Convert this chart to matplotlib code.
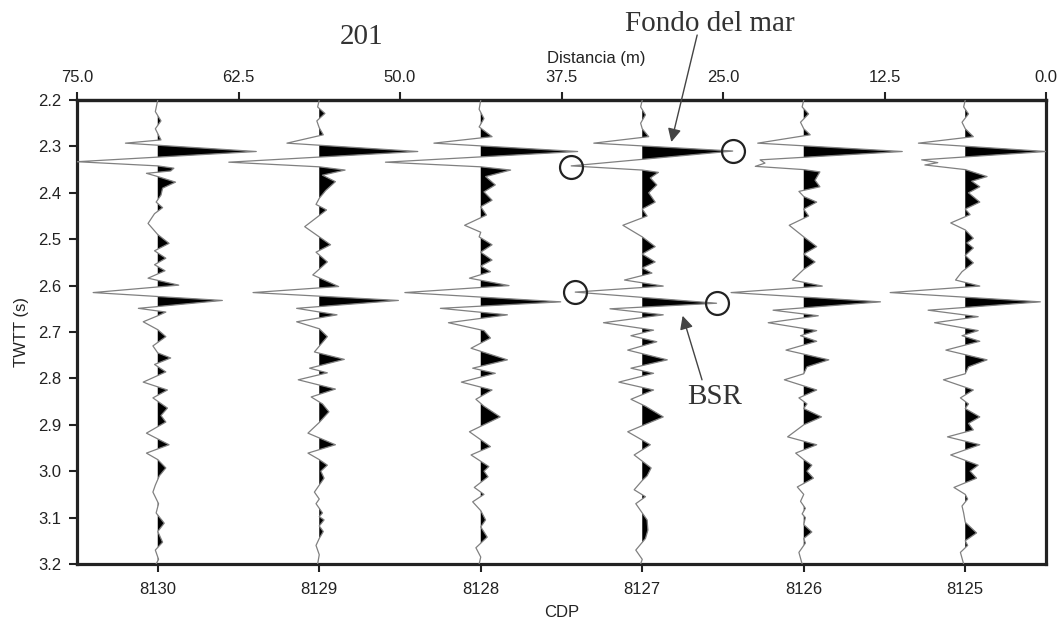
import numpy as np
import matplotlib
matplotlib.use("Agg")
import matplotlib.pyplot as plt
from matplotlib.ticker import FormatStrFormatter

plt.rcParams["font.family"] = ["Liberation Sans", "DejaVu Sans"]

# CDP gathers, left to right
cdps = [8130, 8129, 8128, 8127, 8126, 8125]
cdp_spacing_m = 12.5

# two-way time (s) and normalised amplitude (fraction of trace spacing)
twtt_8130 = [2.200, 2.225, 2.245, 2.262, 2.286, 2.293, 2.311, 2.333, 2.342, 2.347, 2.353, 2.358,
             2.365, 2.377, 2.390, 2.405, 2.420, 2.432, 2.445, 2.466, 2.490, 2.509, 2.525, 2.541,
             2.555, 2.568, 2.584, 2.599, 2.615, 2.632, 2.649, 2.657, 2.665, 2.678, 2.695, 2.710,
             2.730, 2.745, 2.756, 2.770, 2.786, 2.808, 2.825, 2.842, 2.864, 2.880, 2.894, 2.918,
             2.943, 2.961, 2.975, 2.993, 3.010, 3.030, 3.045, 3.070, 3.090, 3.112, 3.130, 3.153,
             3.170, 3.190, 3.200]
amp_8130 = [0.0, -0.015, 0.02, -0.015, 0.02, -0.20, 0.61, -0.50, 0.0, 0.10, 0.08, -0.07,
            0.0, 0.11, 0.03, 0.02, -0.01, 0.03, -0.02, -0.06, 0.0, 0.07, -0.02, 0.05,
            -0.02, 0.045, -0.06, 0.13, -0.40, 0.40, -0.12, 0.05, 0.0, -0.09, 0.0, 0.05,
            -0.03, 0.0, 0.08, -0.02, 0.05, -0.09, 0.06, -0.03, 0.06, 0.02, 0.05, -0.07,
            0.07, -0.07, 0.0, 0.05, 0.01, -0.015, -0.03, 0.005, -0.01, 0.04, 0.0, 0.03,
            -0.015, 0.005, -0.01]

twtt_8129 = [2.200, 2.215, 2.229, 2.245, 2.260, 2.275, 2.293, 2.311, 2.334, 2.344, 2.351, 2.362,
             2.376, 2.395, 2.412, 2.425, 2.437, 2.473, 2.495, 2.512, 2.528, 2.549, 2.577, 2.602,
             2.615, 2.632, 2.649, 2.663, 2.678, 2.693, 2.710, 2.743, 2.759, 2.778, 2.788, 2.803,
             2.823, 2.840, 2.855, 2.872, 2.895, 2.918, 2.943, 2.961, 2.975, 2.987, 3.000, 3.015,
             3.030, 3.045, 3.060, 3.070, 3.090, 3.098, 3.105, 3.118, 3.130, 3.145, 3.160, 3.180,
             3.200]
amp_8129 = [0.0, -0.01, 0.035, -0.015, 0.0, 0.025, -0.20, 0.61, -0.56, 0.0, 0.16, 0.02,
            0.10, 0.04, 0.0, -0.02, 0.045, -0.09, 0.0, 0.07, -0.02, 0.05, -0.04, 0.12,
            -0.41, 0.49, -0.14, 0.11, -0.14, 0.0, 0.05, -0.03, 0.155, -0.06, 0.05, -0.13,
            0.10, -0.05, 0.02, 0.06, 0.0, -0.07, 0.10, -0.07, 0.0, 0.05, 0.01, 0.03,
            0.0, -0.03, 0.0, -0.02, 0.02, 0.0, 0.03, 0.0, 0.025, 0.0, -0.02, 0.0,
            -0.01]

twtt_8128 = [2.200, 2.220, 2.240, 2.258, 2.279, 2.293, 2.311, 2.334, 2.344, 2.351, 2.365, 2.383,
             2.398, 2.416, 2.430, 2.448, 2.470, 2.485, 2.495, 2.512, 2.528, 2.545, 2.558, 2.570,
             2.584, 2.600, 2.615, 2.635, 2.649, 2.663, 2.680, 2.697, 2.713, 2.735, 2.760, 2.778,
             2.789, 2.808, 2.825, 2.845, 2.860, 2.883, 2.915, 2.947, 2.965, 2.990, 3.000, 3.012,
             3.035, 3.050, 3.066, 3.085, 3.105, 3.120, 3.142, 3.165, 3.185, 3.200]
amp_8128 = [0.0, -0.01, 0.02, -0.01, 0.07, -0.29, 0.60, -0.59, 0.0, 0.185, 0.03, 0.09,
            0.02, 0.07, 0.0, 0.035, -0.10, 0.0, -0.01, 0.07, 0.0, 0.07, 0.0, 0.06,
            -0.07, 0.175, -0.47, 0.495, -0.25, 0.165, -0.20, 0.02, 0.06, -0.06, 0.165, -0.05,
            0.09, -0.12, 0.07, -0.03, 0.02, 0.12, -0.07, 0.06, -0.06, 0.05, 0.02, 0.045,
            -0.04, 0.02, -0.05, 0.0, 0.03, 0.0, 0.04, -0.03, 0.0, -0.01]

twtt_8127 = [2.200, 2.215, 2.232, 2.250, 2.262, 2.279, 2.293, 2.310, 2.342, 2.351, 2.356, 2.368,
             2.383, 2.400, 2.420, 2.435, 2.450, 2.470, 2.495, 2.516, 2.532, 2.549, 2.562, 2.573,
             2.588, 2.601, 2.614, 2.638, 2.650, 2.663, 2.680, 2.696, 2.708, 2.721, 2.739, 2.760,
             2.778, 2.789, 2.808, 2.825, 2.845, 2.860, 2.883, 2.915, 2.943, 2.965, 2.993, 3.010,
             3.020, 3.040, 3.055, 3.070, 3.090, 3.105, 3.127, 3.145, 3.170, 3.190, 3.200]
amp_8127 = [0.0, -0.01, 0.02, -0.01, 0.0, 0.04, -0.30, 0.56, -0.44, 0.0, 0.10, 0.05,
            0.09, 0.04, 0.08, 0.0, 0.03, -0.12, 0.0, 0.08, 0.0, 0.08, 0.0, 0.06,
            -0.11, 0.13, -0.415, 0.46, -0.20, 0.13, -0.24, 0.07, -0.07, 0.09, -0.09, 0.155,
            -0.07, 0.07, -0.145, 0.07, -0.07, 0.02, 0.13, -0.09, 0.05, -0.05, 0.055, 0.03,
            0.0, -0.05, 0.02, -0.04, 0.0, 0.03, 0.035, 0.02, -0.04, 0.0, -0.01]

twtt_8126 = [2.200, 2.215, 2.230, 2.248, 2.262, 2.275, 2.293, 2.311, 2.329, 2.336, 2.343, 2.350,
             2.355, 2.373, 2.387, 2.397, 2.408, 2.420, 2.435, 2.450, 2.470, 2.495, 2.516, 2.532,
             2.549, 2.565, 2.588, 2.601, 2.615, 2.635, 2.653, 2.665, 2.680, 2.697, 2.708, 2.720,
             2.739, 2.760, 2.775, 2.790, 2.803, 2.825, 2.842, 2.855, 2.865, 2.883, 2.900, 2.926,
             2.943, 2.961, 2.975, 2.987, 3.000, 3.015, 3.034, 3.050, 3.065, 3.080, 3.092, 3.100,
             3.115, 3.131, 3.145, 3.155, 3.175, 3.200]
amp_8126 = [0.0, -0.01, 0.03, -0.02, 0.0, 0.04, -0.285, 0.61, -0.27, -0.24, -0.30, 0.0,
            0.10, 0.07, 0.10, -0.03, 0.0, 0.08, 0.0, 0.03, -0.09, 0.0, 0.08, 0.0,
            0.07, 0.0, -0.07, 0.115, -0.45, 0.475, -0.19, 0.09, -0.22, 0.08, -0.02, 0.08,
            -0.11, 0.155, 0.02, 0.0, -0.12, 0.08, -0.03, 0.02, 0.0, 0.11, 0.0, -0.10,
            0.08, -0.05, 0.0, 0.05, 0.02, 0.06, -0.04, 0.0, -0.02, 0.01, -0.01, 0.01,
            0.0, 0.05, 0.0, 0.01, -0.03, -0.01]

twtt_8125 = [2.200, 2.215, 2.230, 2.248, 2.262, 2.279, 2.293, 2.311, 2.329, 2.335, 2.340, 2.350,
             2.365, 2.375, 2.387, 2.400, 2.420, 2.435, 2.447, 2.465, 2.480, 2.498, 2.508, 2.519,
             2.535, 2.551, 2.570, 2.588, 2.601, 2.615, 2.635, 2.653, 2.667, 2.680, 2.697, 2.708,
             2.720, 2.739, 2.760, 2.775, 2.790, 2.803, 2.825, 2.842, 2.855, 2.865, 2.883, 2.897,
             2.911, 2.926, 2.943, 2.965, 2.987, 3.000, 3.015, 3.035, 3.050, 3.060, 3.075, 3.090,
             3.110, 3.133, 3.150, 3.160, 3.175, 3.200]
amp_8125 = [0.0, -0.01, 0.02, -0.02, 0.0, 0.05, -0.29, 0.50, -0.27, -0.17, -0.25, 0.0,
            0.135, 0.04, 0.09, 0.02, 0.09, 0.0, 0.03, -0.09, 0.0, 0.05, 0.01, 0.05,
            0.0, 0.05, -0.02, -0.06, 0.09, -0.465, 0.465, -0.23, 0.08, -0.19, 0.08, -0.02,
            0.09, -0.12, 0.135, 0.02, 0.0, -0.135, 0.05, -0.03, 0.02, 0.0, 0.09, 0.02,
            0.05, -0.11, 0.09, -0.09, 0.08, 0.03, 0.07, -0.07, 0.0, 0.015, -0.02, -0.01,
            0.0, 0.07, 0.0, 0.015, -0.03, -0.01]

traces = {
    8130: (twtt_8130, amp_8130),
    8129: (twtt_8129, amp_8129),
    8128: (twtt_8128, amp_8128),
    8127: (twtt_8127, amp_8127),
    8126: (twtt_8126, amp_8126),
    8125: (twtt_8125, amp_8125),
}

# picked seafloor / BSR extrema on CDP 8127
pick_cdp = 8127
pick_twtt = [2.310, 2.344, 2.614, 2.638]
pick_amp = [0.56, -0.44, -0.415, 0.46]

fig = plt.figure(figsize=(10.64, 6.23), dpi=100)
ax = fig.add_axes([77 / 1064, 1 - 564 / 623, 969 / 1064, 464 / 623])

for cdp in cdps:
    t, a = traces[cdp]
    t = np.asarray(t)
    a = np.asarray(a)
    # positive amplitude plots to the right (x axis runs high -> low CDP)
    x = cdp - a
    ax.fill_betweenx(t, cdp, x, where=a > 0, interpolate=True,
                     color="black", linewidth=0, zorder=2)
    ax.plot(x, t, color="#808080", lw=0.9, zorder=3)

ax.plot([pick_cdp - a for a in pick_amp], pick_twtt, "o", ms=16.5, mfc="none",
        mec="#222222", mew=1.6, zorder=5, clip_on=False)

ax.set_xlim(cdps[0] + 0.5, cdps[-1] - 0.5)
ax.set_ylim(3.2, 2.2)
ax.set_xticks(cdps)
ax.set_xticklabels([str(c) for c in cdps])
ax.set_yticks(np.arange(2.2, 3.21, 0.1))
ax.yaxis.set_major_formatter(FormatStrFormatter("%.1f"))
ax.tick_params(direction="out", length=6, width=1.5, color="#222222",
               labelsize=12, labelcolor="#222222", pad=5)
ax.tick_params(axis="x", pad=7)
for sp in ax.spines.values():
    sp.set_linewidth(2.3)
    sp.set_color("#222222")

ax.set_xlabel("CDP", fontsize=12, color="#222222", labelpad=6)
ax.text(-0.0568, 0.5, "TWTT (s)", transform=ax.transAxes, rotation=90,
        ha="center", va="center", fontsize=12, color="#222222")

# distance along the line on the top axis
x_right = cdps[-1] - 0.5
top = ax.secondary_xaxis("top", functions=(lambda c: (c - x_right) * cdp_spacing_m,
                                           lambda d: d / cdp_spacing_m + x_right))
top.set_xticks([75.0, 62.5, 50.0, 37.5, 25.0, 12.5, 0.0])
top.xaxis.set_major_formatter(FormatStrFormatter("%.1f"))
top.tick_params(direction="out", length=6, width=1.5, color="#222222",
                labelsize=12, labelcolor="#222222", pad=5)
top.spines["top"].set_linewidth(2.3)
top.spines["top"].set_color("#222222")
ax.text(0.5356, 1.0905, "Distancia (m)", transform=ax.transAxes,
        ha="center", va="center", fontsize=12, color="#222222")

serif = ["Liberation Serif", "DejaVu Serif"]
ax.text(8128.74, 2.064, "201", family=serif, fontsize=21, color="#333333",
        ha="center", va="center", clip_on=False)
ax.text(8126.58, 2.036, "Fondo del mar", family=serif, fontsize=21, color="#333333",
        ha="center", va="center", clip_on=False)
ax.text(8126.55, 2.840, "BSR", family=serif, fontsize=21, color="#333333",
        ha="center", va="center")

arrow = dict(arrowstyle="-|>", color="#444444", lw=1.0, mutation_scale=20,
             shrinkA=0, shrinkB=0)
ax.annotate("", xy=(8126.82, 2.2905), xytext=(8126.66, 2.06),
            arrowprops=arrow, annotation_clip=False)
ax.annotate("", xy=(8126.75, 2.665), xytext=(8126.63, 2.803),
            arrowprops=arrow, annotation_clip=False)

fig.savefig("out.png", dpi=100)
